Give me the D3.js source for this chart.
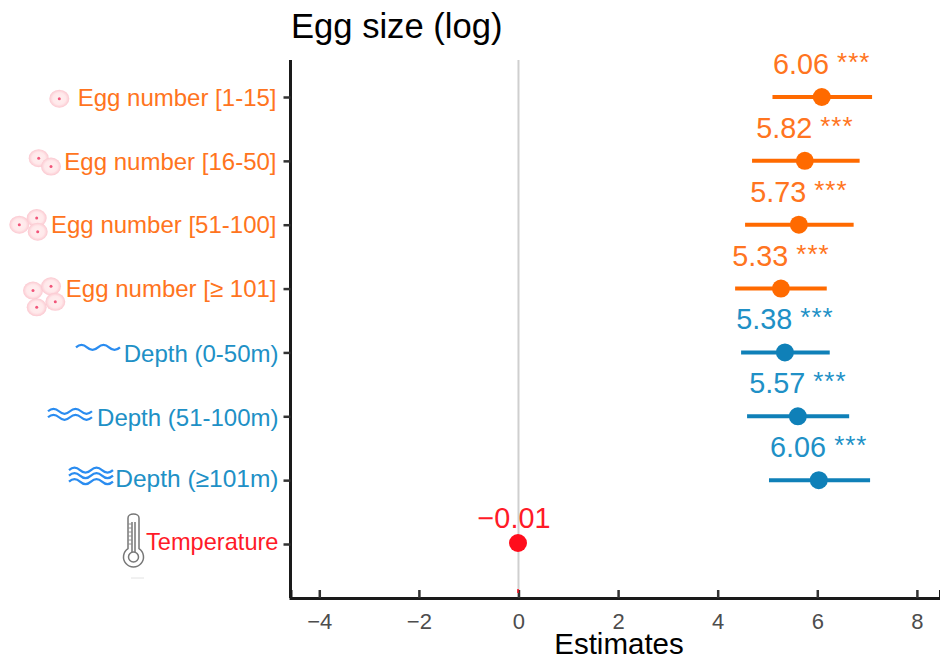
<!DOCTYPE html>
<html>
<head>
<meta charset="utf-8">
<script src="https://cdn.jsdelivr.net/npm/d3@7"></script>
<style>
  html, body { margin: 0; padding: 0; background: #fff; }
  svg { display: block; }
  text { font-family: "Liberation Sans", Arial, sans-serif; }
</style>
</head>
<body>
<svg width="940" height="661"></svg>
<script>
const categories = [
  "Egg number [1-15]",
  "Egg number [16-50]",
  "Egg number [51-100]",
  "Egg number [≥ 101]",
  "Depth (0-50m)",
  "Depth (51-100m)",
  "Depth (≥101m)",
  "Temperature",
];
const groups = ["egg", "egg", "egg", "egg", "depth", "depth", "depth", "temp"];
const estimates = [6.09, 5.75, 5.63, 5.27, 5.35, 5.61, 6.03, -0.01];
const ciLow = [5.1, 4.69, 4.55, 4.35, 4.47, 4.59, 5.03, -0.02];
const ciHigh = [7.1, 6.85, 6.73, 6.19, 6.25, 6.64, 7.06, 0.0];
const valueLabels = ["6.06", "5.82", "5.73", "5.33", "5.38", "5.57", "6.06", "−0.01"];
const stars = ["***", "***", "***", "***", "***", "***", "***", ""];
const xTicks = [-4, -2, 0, 2, 4, 6, 8];

const colors = { egg: "#ff6a00", depth: "#0f80b8", temp: "#ff0d1c" };
const labelColors = { egg: "#ff7420", depth: "#2090c6", temp: "#ff1a28" };

const svg = d3.select("svg");
const left = 290.5;
const right = 940;
const top_ = 60;
const bottom = 598;

const xScale = d3.scaleLinear().domain([-4.578, 8.464]).range([left, right]);
const yScale = d3.scalePoint().domain(categories).range([97, 544]);

// zero line sits under everything
svg.append("line")
  .attr("x1", xScale(0)).attr("x2", xScale(0))
  .attr("y1", top_).attr("y2", bottom)
  .attr("stroke", "#cfcfcf").attr("stroke-width", 2);

const xAxis = d3.axisBottom(xScale).tickValues(xTicks).tickSize(-8).tickPadding(15);
const gx = svg.append("g").attr("transform", `translate(0, ${bottom})`).call(xAxis);
gx.select(".domain").attr("stroke", "#1a1a1a").attr("stroke-width", 3);
gx.selectAll(".tick line").attr("stroke", "#333").attr("stroke-width", 2.5);
gx.selectAll(".tick text").attr("fill", "#4d4d4d").style("font-size", "22px")
  .style("font-family", '"Liberation Sans", Arial, sans-serif');

// tiny red stub of the temperature interval just above the axis
svg.append("line")
  .attr("x1", xScale(-0.01)).attr("x2", xScale(-0.01))
  .attr("y1", bottom - 9).attr("y2", bottom - 5)
  .attr("stroke", colors.temp).attr("stroke-width", 1.5);

const yAxis = d3.axisLeft(yScale).tickSize(7).tickPadding(6);
const gy = svg.append("g").attr("transform", `translate(${left}, 0)`).call(yAxis);
gy.select(".domain").attr("d", `M0,${top_}V${bottom}`).attr("stroke", "#1a1a1a").attr("stroke-width", 3);
gy.selectAll(".tick line").attr("stroke", "#333").attr("stroke-width", 2.5);

// labels do not sit evenly on their ticks in the original
const labelNudge = [1, 0.5, 0, 0.5, 1.5, 2, -1.5, -2];
gy.selectAll(".tick text")
  .attr("fill", (d, i) => labelColors[groups[i]])
  .attr("x", (d, i) => (groups[i] === "egg" ? -14 : -12))
  .attr("y", (d, i) => labelNudge[i])
  .style("font-size", (d, i) => (i === 6 ? "24.5px" : i === 7 ? "23.6px" : "24px"))
  .style("font-family", '"Liberation Sans", Arial, sans-serif');

const rows = categories.map((c, i) => ({
  c, i, est: estimates[i], lo: ciLow[i], hi: ciHigh[i],
  label: valueLabels[i], star: stars[i], group: groups[i],
}));

svg.selectAll(".ci").data(rows).join("line").attr("class", "ci")
  .attr("x1", (d) => xScale(d.lo)).attr("x2", (d) => xScale(d.hi))
  .attr("y1", (d) => yScale(d.c)).attr("y2", (d) => yScale(d.c))
  .attr("stroke", (d) => colors[d.group]).attr("stroke-width", 4);

svg.selectAll(".dot").data(rows).join("circle").attr("class", "dot")
  .attr("cx", (d) => xScale(d.est)).attr("cy", (d) => yScale(d.c) - (d.star ? 0 : 1)).attr("r", 9)
  .attr("fill", (d) => colors[d.group]);

const vals = svg.selectAll(".val").data(rows).join("text").attr("class", "val")
  .attr("x", (d) => xScale(d.est)).attr("y", (d) => yScale(d.c) - (d.star ? 23 : 16))
  .attr("text-anchor", "middle").attr("fill", (d) => labelColors[d.group])
  .style("font-size", "28.8px");
vals.append("tspan").text((d) => `${d.label}\u00a0`);
vals.append("tspan").attr("dy", -3).style("font-size", "26px").style("letter-spacing", "1px")
  .text((d) => d.star);

svg.append("text").attr("x", 291).attr("y", 38).attr("fill", "#000")
  .style("font-size", "34.6px").text("Egg size (log)");
svg.append("text").attr("x", 619).attr("y", 654).attr("text-anchor", "middle").attr("fill", "#000")
  .style("font-size", "29.5px").text("Estimates");

// little pictures beside the row labels, placed relative to each row
const defs = svg.append("defs");
const grad = defs.append("radialGradient").attr("id", "egg");
grad.append("stop").attr("offset", "0%").attr("stop-color", "#fff0f0");
grad.append("stop").attr("offset", "65%").attr("stop-color", "#ffe8ea");
grad.append("stop").attr("offset", "100%").attr("stop-color", "#fbc8d0");

const eggOffsets = [
  [[59.3, 1.7]],
  [[38.7, -2.7], [51, 5.7]],
  [[19.3, 0], [36.7, -6.7], [37.7, 7]],
  [[33, 2], [51, -2.3], [55.3, 13.3], [36.7, 18.7]],
];
eggOffsets.forEach((eggs, i) => {
  const y = yScale(categories[i]);
  eggs.forEach(([ex, dy]) => {
    svg.append("ellipse").attr("cx", ex).attr("cy", y + dy).attr("rx", 10).attr("ry", 9)
      .attr("fill", "url(#egg)");
    svg.append("circle").attr("cx", ex).attr("cy", y + dy).attr("r", 1.5)
      .attr("fill", "#f2557a");
  });
});

const wave = (x0, y0) => {
  const path = d3.path();
  const w = 11;
  path.moveTo(x0, y0);
  for (let k = 0; k < 4; k++) {
    const x = x0 + k * w;
    const s = k % 2 ? 1 : -1;
    path.quadraticCurveTo(x + w / 2, y0 + s * 5, x + w, y0);
  }
  return path.toString();
};
[[76, [-5]], [48, [-5, 1]], [69, [-10, -4.5, 1.5]]].forEach(([x0, dys], i) => {
  const y = yScale(categories[4 + i]);
  dys.forEach((dy) => {
    svg.append("path").attr("d", wave(x0, y + dy)).attr("fill", "none")
      .attr("stroke", "#2a8cf0").attr("stroke-width", 2.2);
  });
});

// thermometer
const tY = yScale("Temperature");
const thermo = svg.append("g").attr("transform", `translate(133.5, ${tY})`)
  .attr("fill", "none").attr("stroke", "#777").attr("stroke-width", 1.5);
thermo.append("path").attr("d", "M-5.5,-26 a5.5,4 0 0 1 11,0 V4.6 a10,10 0 1 1 -11,0 Z").attr("fill", "#fff");
thermo.append("circle").attr("cx", 0).attr("cy", 13).attr("r", 5);
thermo.append("path").attr("d", "M-1.5,-22 V8 M1.5,-22 V8");
thermo.append("path").attr("d", "M-5,-20 h3 M-5,-16 h3 M-5,-12 h3 M-5,-8 h3 M-5,-4 h3 M-5,0 h3").attr("stroke-width", 0.8);
svg.append("line").attr("x1", 131).attr("x2", 144).attr("y1", tY + 34).attr("y2", tY + 34)
  .attr("stroke", "#e2e2e2").attr("stroke-width", 1);
</script>
</body>
</html>
